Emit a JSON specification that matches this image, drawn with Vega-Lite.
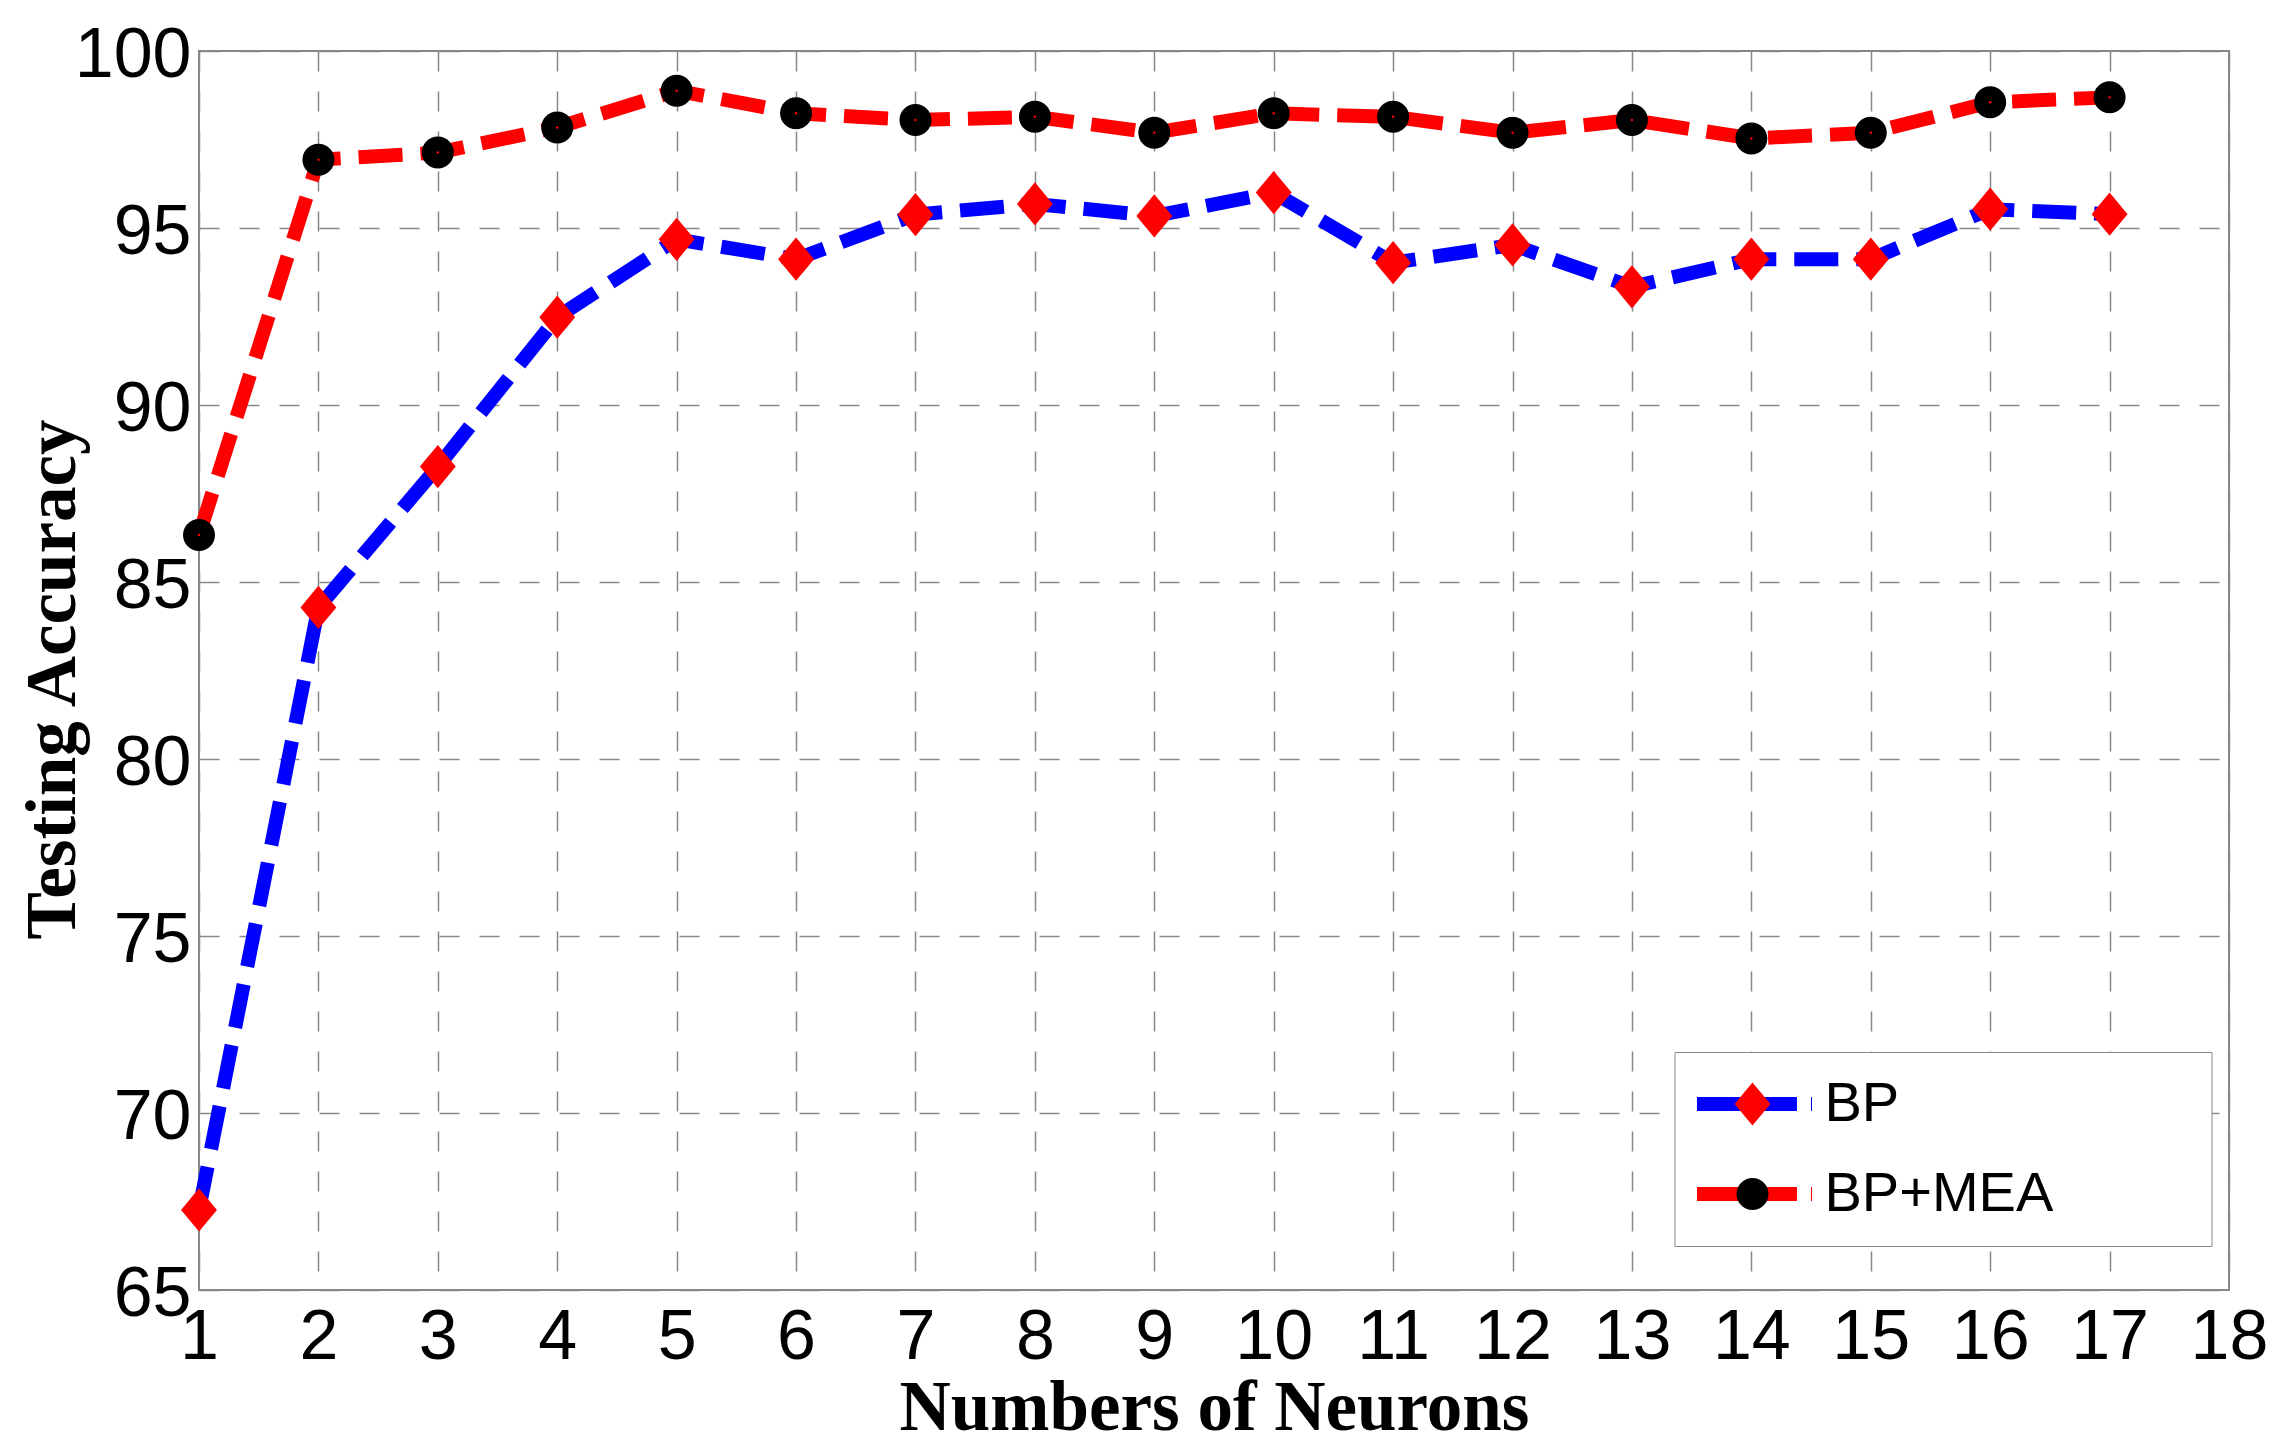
{
  "$schema": "https://vega.github.io/schema/vega-lite/v6.json",
  "width": 2030,
  "height": 1239,
  "autosize": {"type": "none"},
  "padding": {"left": 199, "top": 51, "right": 62, "bottom": 165},
  "background": "white",
  "config": {
    "view": {"stroke": "#888888", "strokeWidth": 2},
    "axis": {
      "grid": true,
      "gridDash": [20, 20],
      "gridColor": "#888888",
      "gridWidth": 1.5,
      "domain": false,
      "ticks": false,
      "labelFont": "Liberation Sans",
      "labelFontSize": 70,
      "labelColor": "#000000",
      "labelFlush": false,
      "labelOverlap": false,
      "titleFont": "Liberation Serif",
      "titleFontWeight": "bold",
      "titleFontSize": 71,
      "titleColor": "#000000"
    }
  },
  "data": {
    "values": [
      {"neurons": 1, "accuracy": 67.26, "series": "BP"},
      {"neurons": 2, "accuracy": 84.28, "series": "BP"},
      {"neurons": 3, "accuracy": 88.26, "series": "BP"},
      {"neurons": 4, "accuracy": 92.48, "series": "BP"},
      {"neurons": 5, "accuracy": 94.68, "series": "BP"},
      {"neurons": 6, "accuracy": 94.12, "series": "BP"},
      {"neurons": 7, "accuracy": 95.38, "series": "BP"},
      {"neurons": 8, "accuracy": 95.68, "series": "BP"},
      {"neurons": 9, "accuracy": 95.34, "series": "BP"},
      {"neurons": 10, "accuracy": 96.0, "series": "BP"},
      {"neurons": 11, "accuracy": 94.02, "series": "BP"},
      {"neurons": 12, "accuracy": 94.52, "series": "BP"},
      {"neurons": 13, "accuracy": 93.34, "series": "BP"},
      {"neurons": 14, "accuracy": 94.12, "series": "BP"},
      {"neurons": 15, "accuracy": 94.12, "series": "BP"},
      {"neurons": 16, "accuracy": 95.53, "series": "BP"},
      {"neurons": 17, "accuracy": 95.39, "series": "BP"},
      {"neurons": 1, "accuracy": 86.33, "series": "BP+MEA"},
      {"neurons": 2, "accuracy": 96.93, "series": "BP+MEA"},
      {"neurons": 3, "accuracy": 97.13, "series": "BP+MEA"},
      {"neurons": 4, "accuracy": 97.84, "series": "BP+MEA"},
      {"neurons": 5, "accuracy": 98.88, "series": "BP+MEA"},
      {"neurons": 6, "accuracy": 98.24, "series": "BP+MEA"},
      {"neurons": 7, "accuracy": 98.05, "series": "BP+MEA"},
      {"neurons": 8, "accuracy": 98.14, "series": "BP+MEA"},
      {"neurons": 9, "accuracy": 97.69, "series": "BP+MEA"},
      {"neurons": 10, "accuracy": 98.24, "series": "BP+MEA"},
      {"neurons": 11, "accuracy": 98.14, "series": "BP+MEA"},
      {"neurons": 12, "accuracy": 97.69, "series": "BP+MEA"},
      {"neurons": 13, "accuracy": 98.05, "series": "BP+MEA"},
      {"neurons": 14, "accuracy": 97.53, "series": "BP+MEA"},
      {"neurons": 15, "accuracy": 97.69, "series": "BP+MEA"},
      {"neurons": 16, "accuracy": 98.55, "series": "BP+MEA"},
      {"neurons": 17, "accuracy": 98.69, "series": "BP+MEA"}
    ]
  },
  "encoding": {
    "x": {
      "field": "neurons",
      "type": "quantitative",
      "scale": {"domain": [1, 18], "nice": false, "zero": false},
      "axis": {
        "title": "Numbers of Neurons",
        "values": [1, 2, 3, 4, 5, 6, 7, 8, 9, 10, 11, 12, 13, 14, 15, 16, 17, 18],
        "labelPadding": 13,
        "titleBaseline": "alphabetic",
        "titleY": 139
      }
    },
    "y": {
      "field": "accuracy",
      "type": "quantitative",
      "scale": {"domain": [65, 100], "nice": false, "zero": false},
      "axis": {
        "title": "Testing Accuracy",
        "values": [65, 70, 75, 80, 85, 90, 95, 100],
        "labelPadding": 8,
        "labelOffset": 4,
        "titleAngle": -90,
        "titleAlign": "center",
        "titleBaseline": "alphabetic",
        "titleX": -125,
        "titleY": 628
      }
    }
  },
  "layer": [
    {
      "mark": {"type": "line", "strokeWidth": 14, "strokeDash": [44, 18], "strokeCap": "butt", "strokeJoin": "miter"},
      "encoding": {
        "stroke": {
          "field": "series",
          "type": "nominal",
          "scale": {"domain": ["BP", "BP+MEA"], "range": ["#0000ff", "#ff0000"]},
          "legend": {
            "orient": "none",
            "legendX": 1475.5,
            "legendY": 1001,
            "title": null,
            "padding": 24,
            "strokeColor": "#888888",
            "fillColor": "#ffffff",
            "symbolType": "M-1.97,0H5.7",
            "symbolSize": 900,
            "symbolStrokeWidth": 14,
            "symbolDash": [100, 14],
            "labelExpr": "''",
            "labelFont": "Liberation Sans",
            "labelFontSize": 56,
            "labelLimit": 1000,
            "labelOffset": 433,
            "rowPadding": 34,
            "zindex": 1
          }
        }
      }
    },
    {
      "mark": {"type": "point", "filled": true, "opacity": 1, "size": 1870, "strokeWidth": 0},
      "encoding": {
        "fill": {
          "field": "series",
          "type": "nominal",
          "scale": {"range": ["#ff0000", "#000000"]},
          "legend": {
            "orient": "none",
            "legendX": 1501.5,
            "legendY": 1001,
            "title": null,
            "padding": 24,
            "symbolSize": 1870,
            "symbolStrokeWidth": 0,
            "symbolOpacity": 1,
            "labelFont": "Liberation Sans",
            "labelFontSize": 56,
            "labelColor": "#000000",
            "labelLimit": 1000,
            "labelOffset": 44,
            "rowPadding": 34,
            "zindex": 2
          }
        },
        "shape": {
          "field": "series",
          "type": "nominal",
          "scale": {"range": ["M0,-1L0.83,0L0,1L-0.83,0Z", "M0.74,0A0.74,0.74,0,1,1,-0.74,0A0.74,0.74,0,1,1,0.74,0Z"]},
          "legend": {
            "orient": "none",
            "legendX": 1501.5,
            "legendY": 1001,
            "title": null,
            "padding": 24,
            "symbolSize": 1870,
            "symbolStrokeWidth": 0,
            "symbolOpacity": 1,
            "labelFont": "Liberation Sans",
            "labelFontSize": 56,
            "labelColor": "#000000",
            "labelLimit": 1000,
            "labelOffset": 44,
            "rowPadding": 34,
            "zindex": 2
          }
        }
      }
    },
    {
      "transform": [{"filter": "datum.series === 'BP+MEA'"}],
      "mark": {"type": "point", "filled": true, "opacity": 1, "size": 6, "color": "#ff0000", "strokeWidth": 0},
      "encoding": {}
    }
  ]
}
